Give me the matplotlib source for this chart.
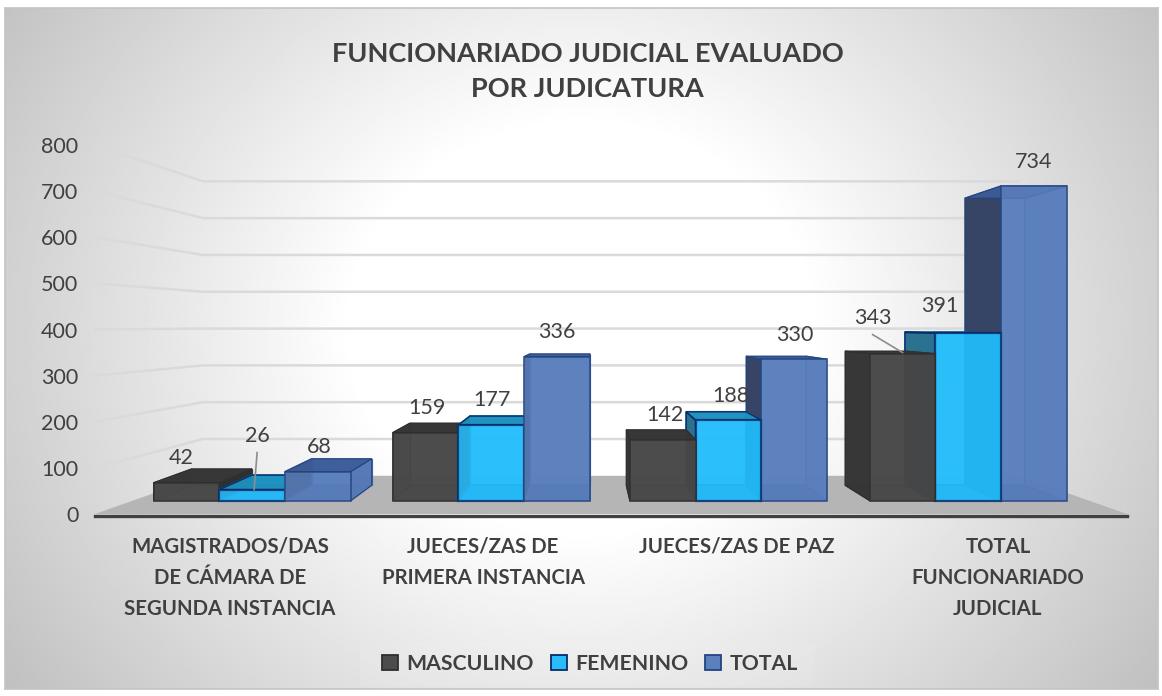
import numpy as np
import matplotlib
matplotlib.use("Agg")
import matplotlib.pyplot as plt
from matplotlib.patches import Polygon, Patch, Rectangle

plt.rcParams['font.family'] = ['Lato', 'DejaVu Sans']

categorias = ['MAGISTRADOS/DAS\nDE CÁMARA DE\nSEGUNDA INSTANCIA',
              'JUECES/ZAS DE\nPRIMERA INSTANCIA',
              'JUECES/ZAS DE PAZ',
              'TOTAL\nFUNCIONARIADO\nJUDICIAL']
masculino = [42, 159, 142, 343]
femenino = [26, 177, 188, 391]
total = [68, 336, 330, 734]
series_nombres = ['MASCULINO', 'FEMENINO', 'TOTAL']
y_ticks = [0, 100, 200, 300, 400, 500, 600, 700, 800]

W, H = 1162, 696
TXT = '#404040'

# vanishing point of the fake 3d, in data units of the main axes
VX, VY = 1.915, 410
S_WALL, S_BACK, S_FRONT = 0.798, 0.848, 0.93
ANCHO = 0.2738
INICIO = [0.10, 1.097, 2.085, 3.085]
X_PARED = 0.04

# colours per series
estilos = [
    dict(front='#4c4c4c', left='#363636', right='#2a2f31', top='#363636', bottom='#3a3a3a', back='#424242',
         edge='#2f2f2f', inner='#333333'),
    dict(front='#28bdfa', left='#2a6c88', right='#0a9cd9', top='#1e8fbc', bottom='#14a8e4', back='#2cc4ff',
         edge='#0a2a6a', inner='#0e8fc8'),
    dict(front='#5b80bd', left='#333f5f', right='#567ab6', top='#3c5c98', bottom='#4a6ca6', back='#5f84c0',
         edge='#24447f', inner='#3f64a5'),
]
# label offsets from the top of the front face, pixels
offset_lbl = [[(-5, 25), (5, 54), (1, 25)],
              [(1, 25), (1, 25), (0, 25)],
              [(2, 25), (2, 24), (1, 24)],
              [(-30, 36), (-29, 27), (0, 24)]]


def pr(x, v, s):
    return (VX + (x - VX) * s, VY + (v - VY) * s)


fig = plt.figure(figsize=(W / 100, H / 100), dpi=100, facecolor='white')

# background gradient, only the panel
bg = fig.add_axes([5 / W, 1 - 689 / H, 1153 / W, 681 / H])
yy, xx = np.mgrid[0:1:300j, 0:1:500j]
rr = np.sqrt(((xx - 0.5) / 0.5) ** 2 + ((yy - 0.47) / 0.75) ** 2)
bg.imshow(1 - 0.3 * np.clip(rr - 0.4, 0, 1), cmap='gray', vmin=0, vmax=1,
          aspect='auto', interpolation='bilinear')
bg.set_xticks([])
bg.set_yticks([])
for sp in bg.spines.values():
    sp.set_color('#c4c4c4')
    sp.set_linewidth(1.2)

ax = fig.add_axes([95 / W, 1 - 514 / H, 1032 / W, 369 / H])
ax.patch.set_alpha(0)
ax.set_xlim(0, 4)
ax.set_ylim(0, 800)
for sp in ['top', 'left', 'right']:
    ax.spines[sp].set_visible(False)
ax.spines['bottom'].set_position(('outward', 1.5))
ax.spines['bottom'].set_color('#404040')
ax.spines['bottom'].set_linewidth(2.4)
ax.spines['bottom'].set_zorder(100)

# floor
ax.add_patch(Polygon([pr(0, 0, 1), pr(4, 0, 1), pr(4, 0, S_WALL), pr(X_PARED, 0, S_WALL)],
                     closed=True, fc='#b5b5b5', ec='none', clip_on=False, zorder=1))
# gridlines: side wall then back wall
for t in y_ticks[1:]:
    pts = np.array([pr(0, t, 1), pr(X_PARED, t, S_WALL), pr(4, t, S_WALL)])
    ax.plot(pts[:, 0], pts[:, 1], color='#dadada', lw=1.8, clip_on=False, zorder=1)


def caras(x0, x1, v):
    a = lambda x, y: pr(x, y, S_FRONT)
    b = lambda x, y: pr(x, y, S_BACK)
    return dict(
        back=[b(x0, 0), b(x1, 0), b(x1, v), b(x0, v)],
        bottom=[a(x0, 0), a(x1, 0), b(x1, 0), b(x0, 0)],
        left=[a(x0, 0), a(x0, v), b(x0, v), b(x0, 0)],
        right=[a(x1, 0), a(x1, v), b(x1, v), b(x1, 0)],
        top=[a(x0, v), a(x1, v), b(x1, v), b(x0, v)],
        front=[a(x0, 0), a(x1, 0), a(x1, v), a(x0, v)],
    )


valores = [masculino, femenino, total]
barras = []
for g in range(len(categorias)):
    for k in range(3):
        barras.append((g, k, INICIO[g] + k * ANCHO, valores[k][g]))
# furthest from the vanishing point is painted first
barras.sort(key=lambda b: -abs(b[2] + ANCHO / 2 - VX))

z = 3
for g, k, x0, v in barras:
    est = estilos[k]
    c = caras(x0, x0 + ANCHO, v)
    lw = 1.6 if k == 1 else 1.2
    for cara in ['back', 'bottom', 'left', 'right', 'top']:
        # only the faces that stick out get the strong outline
        fuerte = cara == 'top' or (cara == 'left' and x0 > VX) or (cara == 'right' and x0 + ANCHO < VX)
        ax.add_patch(Polygon(c[cara], closed=True, fc=est[cara], ec=est['edge'] if fuerte else est['inner'],
                             lw=lw * 0.7, alpha=0.93, clip_on=False, zorder=z))
        z += 1
    ax.add_patch(Polygon(c['front'], closed=True, fc=est['front'], ec=est['edge'], lw=lw,
                         alpha=0.8, clip_on=False, zorder=z))
    z += 1

for g, k, x0, v in barras:
    cx, cy = pr(x0 + ANCHO / 2, v, S_FRONT)
    dx, dy = offset_lbl[g][k]
    ax.annotate(str(v), (cx, cy), xytext=(dx, dy), textcoords='offset pixels', ha='center',
                va='center', fontsize=15.5, color=TXT, zorder=200, annotation_clip=False)

# leader lines of the moved labels
for g, k, dx0, dy0, dx1, dy1 in [(0, 1, 5, 37, 2, 0), (3, 0, -30, 19, 0, 1)]:
    x0 = INICIO[g] + k * ANCHO
    cx, cy = pr(x0 + ANCHO / 2, valores[k][g], S_FRONT)
    p0 = ax.transData.transform((cx, cy)) + (dx0, dy0)
    p1 = ax.transData.transform((cx, cy)) + (dx1, dy1)
    fig.add_artist(plt.Line2D([p0[0] / W, p1[0] / W], [p0[1] / H, p1[1] / H],
                              color='#8c8c8c', lw=1.2, zorder=150))

ax.set_yticks(y_ticks)
ax.tick_params(axis='y', length=0, pad=12, labelsize=15.5, labelcolor=TXT)
ax.set_xticks([0.523, 1.504, 2.488, 3.5])
ax.set_xticklabels(categorias, fontweight='bold', linespacing=1.7)
ax.tick_params(axis='x', length=0, pad=15, labelsize=14.7, labelcolor=TXT)

fig.text(587.5 / W, 1 - 71.5 / H, 'FUNCIONARIADO JUDICIAL EVALUADO\nPOR JUDICATURA', ha='center', va='center',
         fontsize=19.5, fontweight='bold', color=TXT, linespacing=1.55)

# lighter band behind the legend
fig.add_artist(Rectangle((360 / W, 1 - 686 / H), 455 / W, 44 / H, transform=fig.transFigure,
                         fc='white', ec='none', alpha=0.08, zorder=0.5))
manejadores = [Patch(fc=estilos[k]['front'], ec=estilos[k]['edge'], lw=1.3, label=series_nombres[k]) for k in range(3)]
fig.legend(handles=manejadores, loc='center', bbox_to_anchor=(590 / W, 1 - 664 / H), ncol=3, frameon=False,
           prop=dict(size=15.3, weight='bold'), labelcolor=TXT, handlelength=0.75, handleheight=0.75,
           handletextpad=0.4, columnspacing=0.8)

fig.savefig('out.png', dpi=100)
